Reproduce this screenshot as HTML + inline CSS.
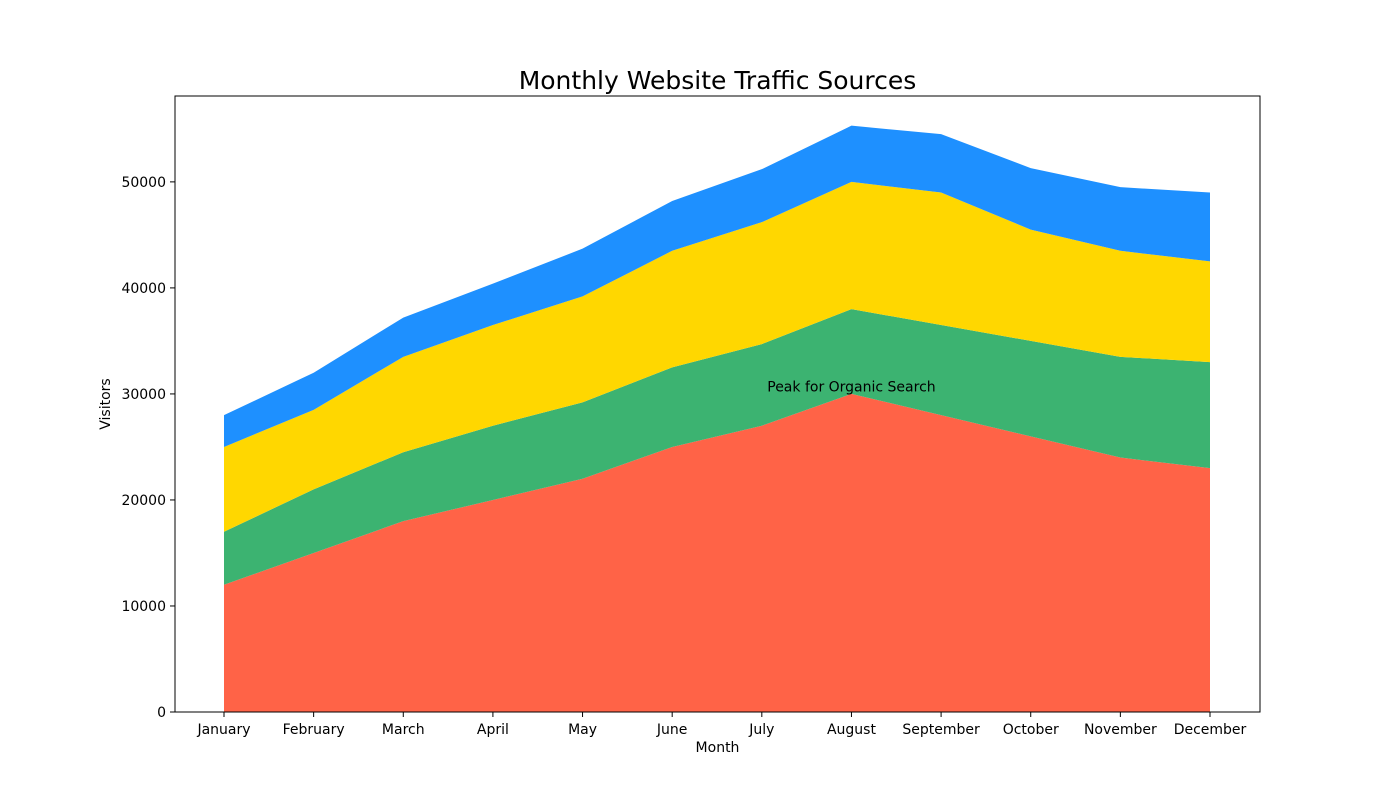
<!DOCTYPE html>
<html><head><meta charset="utf-8"><style>
body{margin:0;background:#fff;}
svg{display:block;font-family:"DejaVu Sans","Liberation Sans",sans-serif;}
</style></head><body>
<svg id="chart" width="1400" height="800"></svg>
<script>
const months=["January","February","March","April","May","June","July","August","September","October","November","December"];
const organic=[12000,15000,18000,20000,22000,25000,27000,30000,28000,26000,24000,23000];
const social=[5000,6000,6500,7000,7200,7500,7700,8000,8500,9000,9500,10000];
const direct=[8000,7500,9000,9500,10000,11000,11500,12000,12500,10500,10000,9500];
const referral=[3000,3500,3700,3900,4500,4700,5000,5300,5500,5800,6000,6500];
const yTicks=[0,10000,20000,30000,40000,50000];
const seriesColors=["#FF6347","#3CB371","#FFD700","#1E90FF"];
const seriesNames=["organic-search","social-media","direct","referral"];
const NS="http://www.w3.org/2000/svg";
const svg=document.getElementById('chart');
const L=175,R=1260,T=96,B=712,yMax=58100;
const x=i=>224+i*(1210-224)/(months.length-1);
const y=v=>B-(v/yMax)*(B-T);
function mk(tag,attrs,parent){const e=document.createElementNS(NS,tag);for(const k in attrs)e.setAttribute(k,attrs[k]);(parent||svg).appendChild(e);return e;}
const series=[organic,social,direct,referral];
let base=months.map(()=>0);
series.forEach((s,si)=>{
  const top=s.map((v,i)=>base[i]+v);
  let d="M"+months.map((_,i)=>x(i)+","+y(top[i])).join(" L");
  for(let i=months.length-1;i>=0;i--)d+=" L"+x(i)+","+y(base[i]);
  d+=" Z";
  const p=mk('path',{d:d,fill:seriesColors[si]});
  
  
  base=top;
});
const frame=mk('rect',{x:L,y:T,width:R-L,height:B-T,fill:'none',stroke:'#000','stroke-width':1});


months.forEach((m,i)=>{
  const t=mk('line',{x1:x(i),x2:x(i),y1:B,y2:B+5,stroke:'#000'});
  
  
  const l=mk('text',{x:x(i),y:B+22,'text-anchor':'middle','font-size':14});
  l.textContent=m;
  
  
});
yTicks.forEach(v=>{
  const t=mk('line',{x1:L-5,x2:L,y1:y(v),y2:y(v),stroke:'#000'});
  
  
  const l=mk('text',{x:L-9,y:y(v)+5,'text-anchor':'end','font-size':14});
  l.textContent=v;
  
  
});
const peak=organic.indexOf(Math.max(...organic));
const ann=mk('text',{x:x(peak),y:y(organic[peak]+500)+3,'text-anchor':'middle','font-size':14});
ann.textContent="Peak for Organic Search";


const title=mk('text',{x:(L+R)/2,y:89,'text-anchor':'middle','font-size':25});
title.textContent="Monthly Website Traffic Sources";


const xt=mk('text',{x:(L+R)/2,y:752,'text-anchor':'middle','font-size':14});
xt.textContent="Month";


const yt=mk('text',{x:110,y:(T+B)/2,'text-anchor':'middle','font-size':14,transform:'rotate(-90 110 '+((T+B)/2)+')'});
yt.textContent="Visitors";


</script>
</body></html>
